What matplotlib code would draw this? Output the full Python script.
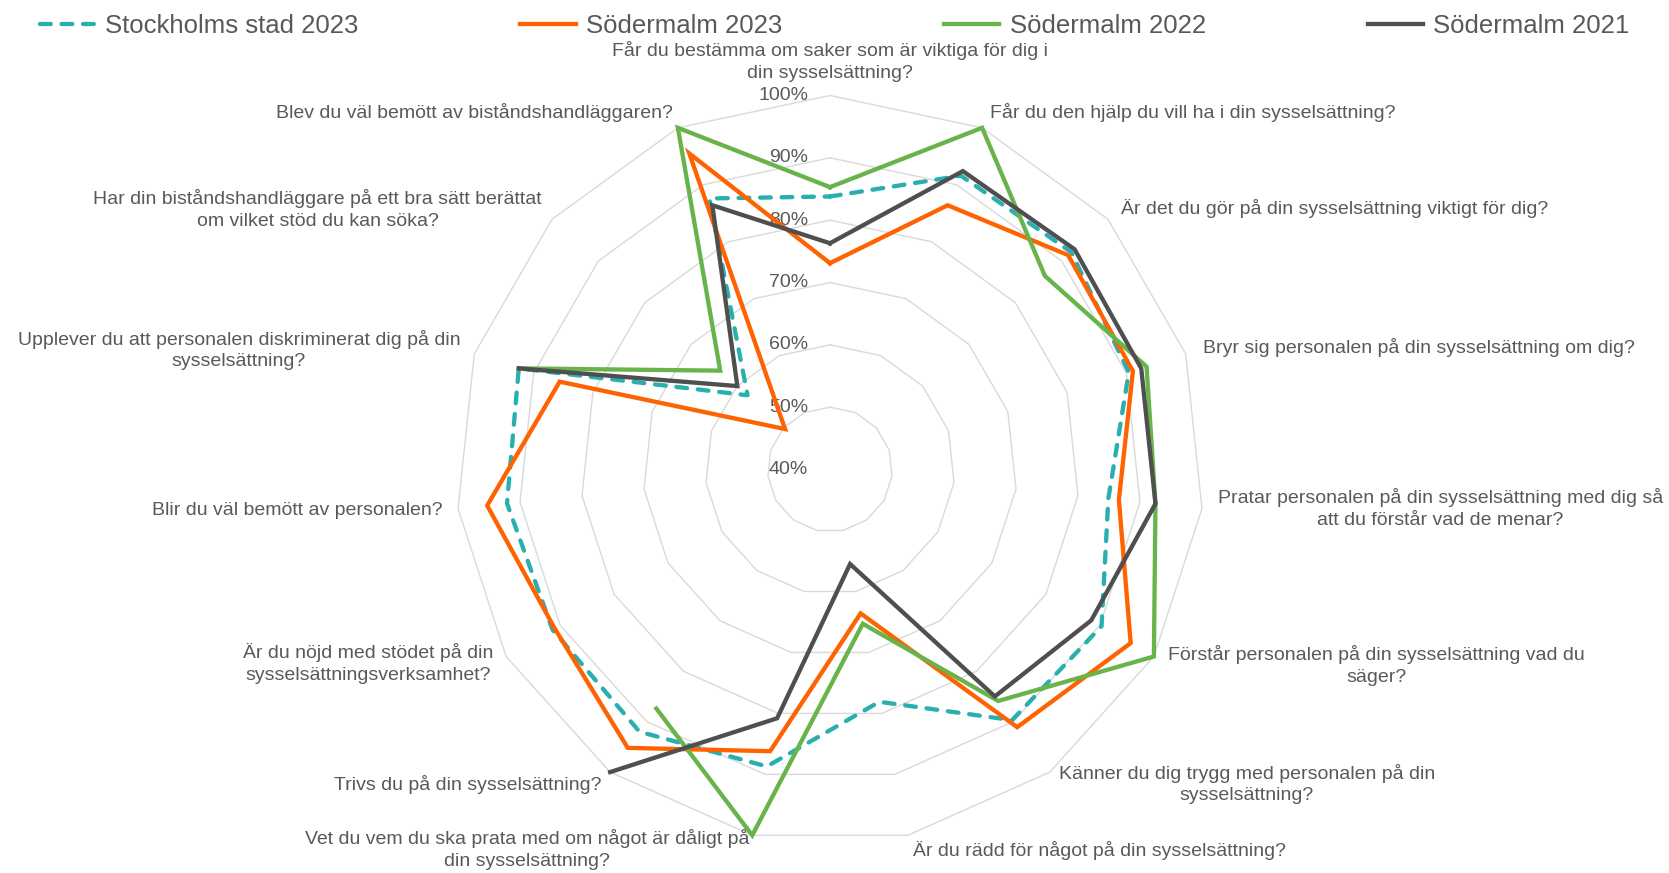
import numpy as np
import matplotlib
matplotlib.use("Agg")
import matplotlib.pyplot as plt

plt.rcParams['font.family'] = ['Liberation Sans', 'DejaVu Sans']

categories = [
    "Får du bestämma om saker som är viktiga för dig i\ndin sysselsättning?",
    "Får du den hjälp du vill ha i din sysselsättning?",
    "Är det du gör på din sysselsättning viktigt för dig?",
    "Bryr sig personalen på din sysselsättning om dig?",
    "Pratar personalen på din sysselsättning med dig så\natt du förstår vad de menar?",
    "Förstår personalen på din sysselsättning vad du\nsäger?",
    "Känner du dig trygg med personalen på din\nsysselsättning?",
    "Är du rädd för något på din sysselsättning?",
    "Vet du vem du ska prata med om något är dåligt på\ndin sysselsättning?",
    "Trivs du på din sysselsättning?",
    "Är du nöjd med stödet på din\nsysselsättningsverksamhet?",
    "Blir du väl bemött av personalen?",
    "Upplever du att personalen diskriminerat dig på din\nsysselsättning?",
    "Har din biståndshandläggare på ett bra sätt berättat\nom vilket stöd du kan söka?",
    "Blev du väl bemött av biståndshandläggaren?",
]

series_names = ["Stockholms stad 2023", "Södermalm 2023", "Södermalm 2022", "Södermalm 2021"]

stockholm_2023 = [83.8, 91.6, 92.1, 90.4, 84.9, 90.3, 89.7, 78.1, 88.7, 92.0, 91.4, 92.1, 92.5, 57.8, 87.6]
sodermalm_2023 = [73.1, 86.4, 91.4, 91.1, 86.6, 95.7, 91.1, 63.6, 86.2, 95.2, 91.0, 95.3, 85.6, 49.7, 95.5]
sodermalm_2022 = [85.3, 100.0, 86.4, 93.4, 92.5, 100.0, 85.9, 65.3, 100.0, 87.4, np.nan, np.nan, 92.5, 63.7, 100.0]
sodermalm_2021 = [76.3, 92.4, 92.8, 92.5, 92.5, 88.4, 85.0, 55.5, 80.8, 100.0, np.nan, np.nan, 92.5, 60.0, 86.4]

tick_values = [40, 50, 60, 70, 80, 90, 100]
tick_labels = ["40%", "50%", "60%", "70%", "80%", "90%", "100%"]

colors = ['#2AAFAF', '#FF6200', '#68B44A', '#4F4F4F']
text_color = '#595959'
grid_color = '#D9D9D9'

W, H = 1669, 873
fig = plt.figure(figsize=(W / 100, H / 100), dpi=100)
fig.patch.set_facecolor('white')

cx, cy, R = 830, 469.5, 374
ax = fig.add_axes([(cx - R) / W, (H - cy - R) / H, 2 * R / W, 2 * R / H], projection='polar')
ax.set_theta_zero_location('N')
ax.set_theta_direction(-1)
ax.set_ylim(40, 100)
ax.grid(False)
ax.spines['polar'].set_visible(False)
ax.set_xticks([])
ax.set_yticks([])
ax.patch.set_alpha(0)

n = len(categories)
theta = np.arange(n) * 2 * np.pi / n
theta_c = np.append(theta, theta[0])

# polygon gridlines
for lv in tick_values[1:]:
    ax.plot(theta_c, [lv] * (n + 1), color=grid_color, lw=1.0, zorder=1, clip_on=False)

# data lines
all_series = [stockholm_2023, sodermalm_2023, sodermalm_2022, sodermalm_2021]
handles = []
for i, (vals, name, col) in enumerate(zip(all_series, series_names, colors)):
    v = np.append(vals, vals[0])
    if i == 0:
        ln, = ax.plot(theta_c, v, color=col, lw=3.1, linestyle=(0, (2.5, 2.5)),
                      dash_capstyle='round', label=name, zorder=3, clip_on=False)
    else:
        ln, = ax.plot(theta_c, v, color=col, lw=3.1, label=name, zorder=3 + i,
                      clip_on=False, solid_joinstyle='miter')
    handles.append(ln)

# radial tick labels
for tv, tl in zip(tick_values, tick_labels):
    ax.annotate(tl, xy=(0, tv), xytext=(-22, 0), textcoords='offset pixels',
                ha='right', va='center', fontsize=14, color=text_color, zorder=2,
                annotation_clip=False)

# category labels
label_specs = [
    ('center', 'bottom', 0, 14),
    ('left', 'center', 8, 15),
    ('left', 'center', 13, 11),
    ('left', 'center', 17, 6),
    ('left', 'center', 16, 0),
    ('left', 'center', 14, -9),
    ('left', 'center', 9, -12),
    ('left', 'center', 5, -15),
    ('right', 'center', -3, -14),
    ('right', 'center', -9, -12),
    ('right', 'center', -13, -7),
    ('right', 'center', -15, -2),
    ('right', 'center', -14, 4),
    ('right', 'center', -10, 10),
    ('right', 'center', -5, 15),
]
for t, lab, (ha, va, dx, dy) in zip(theta, categories, label_specs):
    ax.annotate(lab, xy=(t, 100), xytext=(dx, dy), textcoords='offset pixels',
                ha=ha, va=va, multialignment='center', fontsize=14, color=text_color,
                linespacing=1.35, annotation_clip=False)

leg = fig.legend(handles=handles, loc='center', bbox_to_anchor=(0.5, 1 - 26 / H),
                 ncol=4, frameon=False, fontsize=18.5, handlelength=2.15,
                 handletextpad=0.4, columnspacing=6.3)
for txt in leg.get_texts():
    txt.set_color(text_color)

fig.savefig('out.png', dpi=100, facecolor='white')
